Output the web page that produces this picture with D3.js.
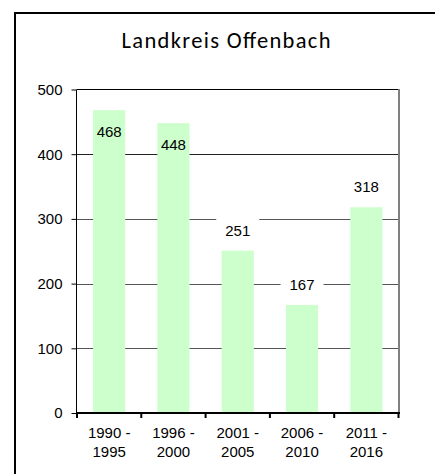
<!DOCTYPE html>
<html><head><meta charset="utf-8">
<script src="https://cdn.jsdelivr.net/npm/d3@7"></script>
<style>html,body{margin:0;padding:0;background:#fff;overflow:hidden}</style>
</head><body>
<script>
const title = "Landkreis Offenbach";
const categoriesLine1 = ["1990 -", "1996 -", "2001 -", "2006 -", "2011 -"];
const categoriesLine2 = ["1995", "2000", "2005", "2010", "2016"];
const values = [468, 448, 251, 167, 318];
const yTicks = [0, 100, 200, 300, 400, 500];

(function () {
const W = 435, H = 474;
const svg = d3.select("body").append("svg").attr("width", W).attr("height", H);
const font = "'Liberation Sans', Arial, sans-serif";

// outer frame (cropped on right/bottom)
svg.append("rect").attr("x", 15).attr("y", 13).attr("width", 440).attr("height", 480)
  .attr("fill", "none").attr("stroke", "#000").attr("stroke-width", 2);

svg.append("text").attr("x", 226).attr("y", 48).attr("text-anchor", "middle")
  .attr("font-family", "Carlito, Lato, sans-serif").attr("font-size", 22.5).attr("fill", "#000")
  .attr("textLength", 209).attr("lengthAdjust", "spacing")
  .text(title);

const pL = 77, pR = 398.5, pT = 89.5, pB = 413;
const cats = categoriesLine1.map((d, i) => d + " " + categoriesLine2[i]);
const x = d3.scaleBand().domain(cats).range([pL, pR]).paddingInner(0.5).paddingOuter(0.25);
const y = d3.scaleLinear().domain([0, 500]).range([pB, pT]);

// gridlines
svg.append("g").selectAll("line").data(yTicks.filter(t => t > 0 && t < 500)).join("line")
  .attr("x1", pL).attr("x2", pR)
  .attr("y1", d => Math.round(y(d)) + 0.5).attr("y2", d => Math.round(y(d)) + 0.5)
  .attr("stroke", d => d === 400 ? "#222" : "#555").attr("stroke-width", 1);
// top border of plot area
svg.append("line").attr("x1", pL).attr("x2", pR).attr("y1", 89.5).attr("y2", 89.5)
  .attr("stroke", "#000").attr("stroke-width", 1);
// right border
svg.append("line").attr("x1", 399).attr("x2", 399).attr("y1", 89).attr("y2", pB)
  .attr("stroke", "#808080").attr("stroke-width", 2);

// bars
svg.append("g").selectAll("rect").data(values).join("rect")
  .attr("x", (d, i) => x(cats[i])).attr("width", x.bandwidth())
  .attr("y", d => y(d)).attr("height", d => pB - y(d))
  .attr("fill", "#CCFFCC");

// value labels
const lab = svg.append("g").selectAll("g").data(values).join("g");
lab.each(function (d, i) {
  const g = d3.select(this);
  const cx = x(cats[i]) + x.bandwidth() / 2;
  const inside = d > 440;
  const base = inside ? y(d) + 27 : y(d) - 15;
  if (!inside) {
    g.append("rect").attr("x", cx - 21.5).attr("y", base - 18).attr("width", 43).attr("height", 24)
      .attr("fill", "#fff");
  }
  g.append("text").attr("x", cx).attr("y", base).attr("text-anchor", "middle")
    .attr("font-family", font).attr("font-size", 15).attr("fill", "#000").text(d);
});

// y axis
const yAxis = svg.append("g").attr("transform", `translate(${pL - 0.5},0)`)
  .call(d3.axisLeft(y).tickValues(yTicks).tickSize(5).tickPadding(9));
yAxis.select(".domain").attr("stroke", "#000").attr("d", `M0,${pT}V${pB}`);
yAxis.selectAll(".tick line").attr("stroke", "#000");
yAxis.selectAll(".tick text").attr("font-family", font).attr("font-size", 15).attr("fill", "#000");

// x axis
const bounds = cats.map(c => x(c) - x.step() * 0.25).concat([pR]);
svg.append("line").attr("x1", pL - 1).attr("x2", pR + 1.5).attr("y1", pB).attr("y2", pB)
  .attr("stroke", "#000").attr("stroke-width", 2);
svg.append("g").selectAll("line").data(bounds).join("line")
  .attr("x1", d => d).attr("x2", d => d).attr("y1", pB).attr("y2", pB + 5)
  .attr("stroke", "#000").attr("stroke-width", 2);
const xl = svg.append("g").selectAll("text").data(cats).join("text")
  .attr("x", d => x(d) + x.bandwidth() / 2).attr("text-anchor", "middle")
  .attr("font-family", font).attr("font-size", 15).attr("fill", "#000");
xl.append("tspan").attr("y", 438).attr("x", d => x(d) + x.bandwidth() / 2).text((d, i) => categoriesLine1[i]);
xl.append("tspan").attr("y", 457).attr("x", d => x(d) + x.bandwidth() / 2).text((d, i) => categoriesLine2[i]);
})();
</script>
</body></html>
